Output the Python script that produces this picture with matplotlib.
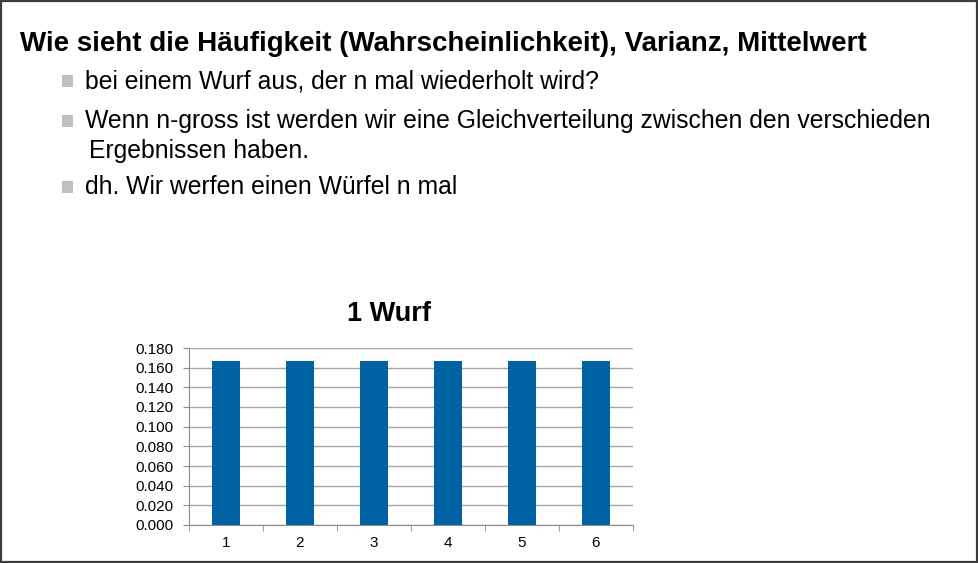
import matplotlib
matplotlib.use("Agg")
import matplotlib.pyplot as plt
from matplotlib.patches import Rectangle

plt.rcParams['font.family'] = ['Liberation Sans', 'DejaVu Sans']

categories = ["1", "2", "3", "4", "5", "6"]
values = [1/6, 1/6, 1/6, 1/6, 1/6, 1/6]
yticks = [0.0, 0.02, 0.04, 0.06, 0.08, 0.10, 0.12, 0.14, 0.16, 0.18]
chart_title = "1 Wurf"
heading = "Wie sieht die Häufigkeit (Wahrscheinlichkeit), Varianz, Mittelwert"
bullets = [
    (["bei einem Wurf aus, der n mal wiederholt wird?"], 81),
    (["Wenn n-gross ist werden wir eine Gleichverteilung zwischen den verschieden", "Ergebnissen haben."], 121),
    (["dh. Wir werfen einen Würfel n mal"], 187),
]

W, H = 979, 563
fig = plt.figure(figsize=(W/100, H/100), dpi=100)

# slide border
fig.add_artist(Rectangle((0.5/W, 1/H), 1 - 2/W, 1 - 2/H, transform=fig.transFigure,
                         fill=False, edgecolor='#3c3c3c', linewidth=1.6))

def fy(y):
    return 1 - y / H

def fx(x):
    return x / W

fig.text(fx(20), fy(44), heading, fontsize=20, fontweight='bold', va='center', ha='left', color='black')

for lines, y in bullets:
    fig.add_artist(Rectangle((fx(62), fy(y + 5.5)), 11 / W, 11 / H, transform=fig.transFigure,
                             facecolor='#bfbfbf', edgecolor='none'))
    for i, line in enumerate(lines):
        xx = 85 if i == 0 else 89
        fig.text(fx(xx), fy(y + i * 30), line, fontsize=17.8, va='center', ha='left', color='black')

ax = fig.add_axes([189 / W, 1 - 525 / H, (633 - 189) / W, (525 - 348) / H])
x = list(range(len(categories)))
ax.bar(x, values, width=0.39, color='#0062a3', zorder=3)
ax.set_xlim(-0.5, len(categories) - 0.5)
ax.set_ylim(0, 0.18)
ax.set_yticks(yticks)
ax.set_yticklabels([f"{v:.3f}" for v in yticks], fontsize=11)
ax.set_xticks(x)
ax.set_xticklabels(categories, fontsize=11)
ax.set_xticks([i - 0.5 for i in range(len(categories) + 1)], minor=True)
ax.tick_params(axis='x', which='major', length=0, pad=8)
ax.tick_params(axis='x', which='minor', length=4, color='#8c8c8c', direction='out')
ax.tick_params(axis='y', length=4, color='#8c8c8c', pad=7)
ax.grid(axis='y', color='#a6a6a6', linewidth=1, zorder=0)
for s in ['top', 'right']:
    ax.spines[s].set_visible(False)
ax.spines['bottom'].set_color('#8c8c8c')
ax.spines['left'].set_color('#8c8c8c')
fig.text(fx(389), fy(314), chart_title, fontsize=19.5, fontweight='bold', ha='center', va='center')

fig.savefig("out.png", dpi=100)
